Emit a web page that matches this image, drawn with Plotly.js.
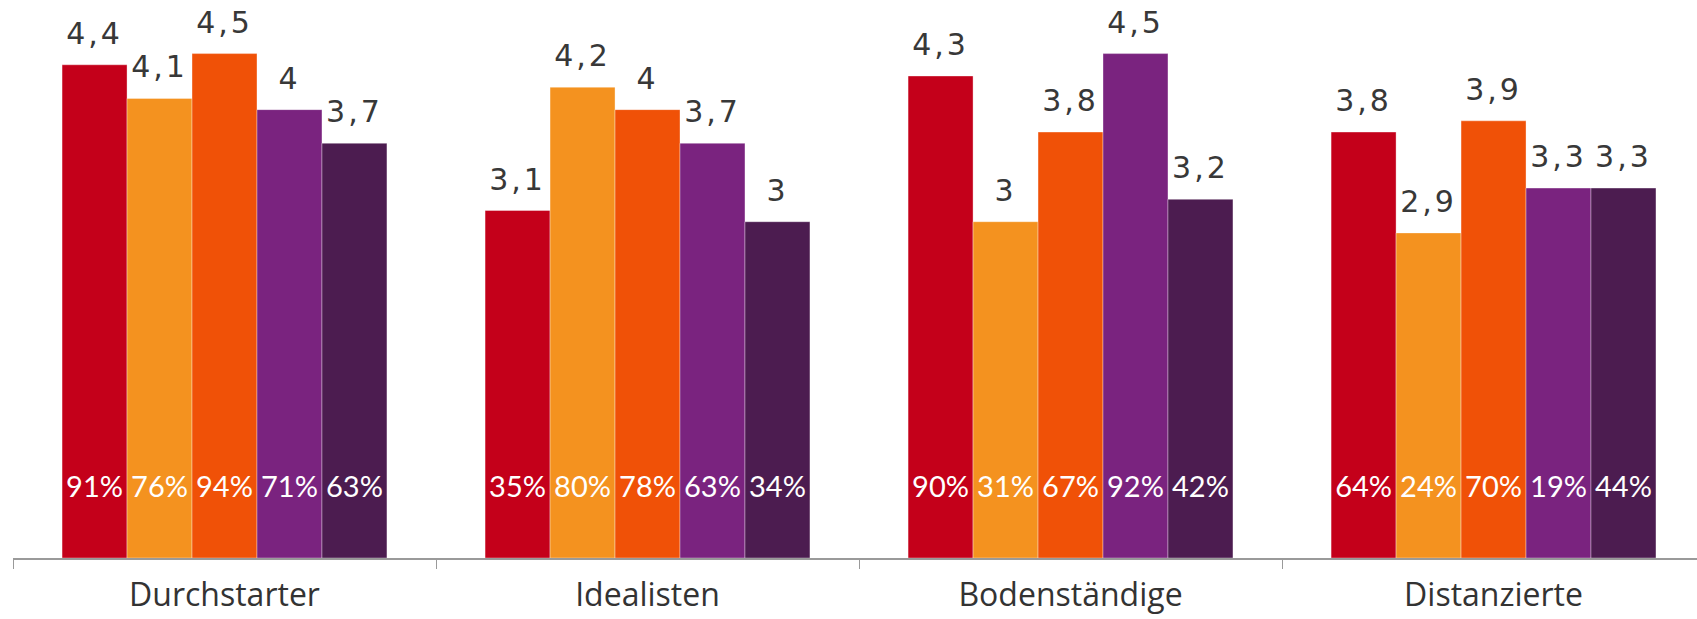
<!DOCTYPE html>
<html>
<head>
<meta charset="utf-8">
<script src="https://cdn.plot.ly/plotly-3.0.1.min.js"></script>
<style>
html,body{margin:0;padding:0;background:#fff;}
#chart{width:1697px;height:619px;}
.valuelabel .textpoint text{letter-spacing:3px;}
</style>
</head>
<body>
<div id="chart"></div>
<script>
const categories = ["Durchstarter", "Idealisten", "Bodenständige", "Distanzierte"];
const seriesNames = ["Gruppe 1", "Gruppe 2", "Gruppe 3", "Gruppe 4", "Gruppe 5"];
const colors = ["#C4001A", "#F4921F", "#F05107", "#7A237F", "#4C1C50"];

const values1 = [4.4, 3.1, 4.3, 3.8];
const values2 = [4.1, 4.2, 3.0, 2.9];
const values3 = [4.5, 4.0, 3.8, 3.9];
const values4 = [4.0, 3.7, 4.5, 3.3];
const values5 = [3.7, 3.0, 3.2, 3.3];

const share1 = [91, 35, 90, 64];
const share2 = [76, 80, 31, 24];
const share3 = [94, 78, 67, 70];
const share4 = [71, 63, 92, 19];
const share5 = [63, 34, 42, 44];

const pctLabelLevel = 0.61;

const allValues = [values1, values2, values3, values4, values5];
const allShares = [share1, share2, share3, share4, share5];

const fmt = v => String(v).replace('.', ',');

const traces = [];
allValues.forEach((vals, i) => {
  traces.push({
    type: 'bar', x: categories, y: vals, name: seriesNames[i],
    offsetgroup: 'g' + i,
    marker: {color: colors[i], line: {color: 'rgba(255,255,255,0.35)', width: 1}},
    hoverinfo: 'skip', showlegend: false
  });
});
allValues.forEach((vals, i) => {
  traces.push({
    type: 'scatter', mode: 'markers+text', x: categories, y: vals,
    offsetgroup: 'g' + i,
    text: vals.map(fmt), textposition: 'top center',
    textfont: {family: 'DejaVu Sans', size: 30, color: '#383838'},
    marker: {size: 20, opacity: 0},
    hoverinfo: 'skip', showlegend: false, cliponaxis: false
  });
});
allShares.forEach((vals, i) => {
  traces.push({
    type: 'scatter', mode: 'text', x: categories, y: vals.map(() => pctLabelLevel),
    offsetgroup: 'g' + i,
    text: vals.map(v => v + '%'), textposition: 'middle center',
    textfont: {family: 'Lato', size: 29, color: '#ffffff'},
    hoverinfo: 'skip', showlegend: false, cliponaxis: false
  });
});

const layout = {
  width: 1697, height: 619,
  margin: {l: 13, r: 0, t: 0, b: 61},
  paper_bgcolor: '#ffffff', plot_bgcolor: '#ffffff',
  barmode: 'group', bargap: 0.232, bargroupgap: 0,
  scattermode: 'group', scattergap: 0.232,
  showlegend: false,
  xaxis: {
    type: 'category', range: [-0.5, 3.481],
    showline: true, linecolor: '#9a9a9a', linewidth: 2,
    ticks: 'outside', tickson: 'boundaries', ticklen: 9, tickwidth: 1, tickcolor: '#9a9a9a',
    ticklabelstandoff: 8,
    tickfont: {family: 'Open Sans', size: 32, color: '#333333'},
    showgrid: false, zeroline: false, fixedrange: true
  },
  yaxis: {
    range: [0, 4.978], visible: false, showgrid: false, zeroline: false, fixedrange: true
  },
  font: {family: 'Lato'}
};

Plotly.newPlot('chart', traces, layout, {displayModeBar: false, staticPlot: true}).then(() => {
  const gd = document.getElementById('chart');
  const groups = gd.querySelectorAll('.scatterlayer .trace');
  groups.forEach((g, idx) => { if (idx < 5) g.classList.add('valuelabel'); });
});
</script>
</body>
</html>
